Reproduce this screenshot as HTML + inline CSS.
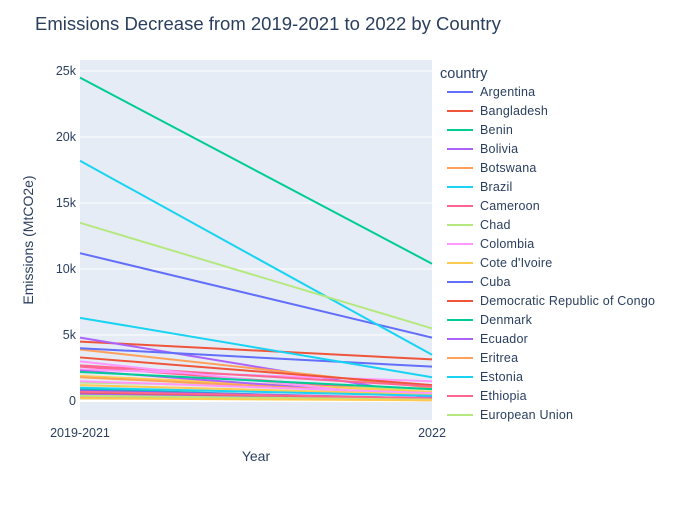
<!DOCTYPE html>
<html><head><meta charset="utf-8"><style>
body{margin:0;background:#fff;font-family:"Liberation Sans",Arial,sans-serif}
svg text{font-family:"Liberation Sans",Arial,sans-serif}
</style></head><body>
<svg id="chart" width="700" height="500" xmlns="http://www.w3.org/2000/svg">
<defs><clipPath id="lgclip"><rect x="434" y="55" width="266" height="368"/></clipPath></defs>
<rect width="700" height="500" fill="#fff"/>
<text x="35" y="30" font-size="18.5" fill="#2a3f5f">Emissions Decrease from 2019-2021 to 2022 by Country</text>
<rect x="80" y="60" width="352" height="360" fill="#e5ecf6"/>
<g id="grid"></g>
<g id="lines"></g>
<g id="axes"></g>
<text x="256" y="461" font-size="14" fill="#2a3f5f" text-anchor="middle">Year</text>
<text transform="translate(33,240) rotate(-90)" font-size="14" fill="#2a3f5f" text-anchor="middle">Emissions (MtCO2e)</text>
<g id="legend" clip-path="url(#lgclip)"></g>
</svg>
<script>
const categories = ["2019-2021","2022"];
const countries = ["Argentina","Bangladesh","Benin","Bolivia","Botswana","Brazil","Cameroon","Chad","Colombia","Cote d'Ivoire","Cuba","Democratic Republic of Congo","Denmark","Ecuador","Eritrea","Estonia","Ethiopia","European Union","C19","C20","C21","C22","C23","C24","C25","C26","C27","C28","C29","C30"];
const startValues = [11200,4500,900,4800,3900,18200,2600,1400,2400,1900,4000,3300,24500,2300,1800,6300,2700,13500,3000,1200,800,600,2200,500,300,1000,700,400,1500,200];
const endValues =   [4800,3150,100,400,1000,3500,600,900,1500,700,2600,1200,10400,300,500,1800,1100,5500,100,500,200,100,900,50,100,400,200,100,600,50];
const yTicks = [0,5000,10000,15000,20000,25000];
const yTickLabels = ["0","5k","10k","15k","20k","25k"];
const palette = ["#636efa","#EF553B","#00cc96","#ab63fa","#FFA15A","#19d3f3","#FF6692","#B6E880","#FF97FF","#FECB52"];
const NS="http://www.w3.org/2000/svg";
const x0=80,x1=432,yZero=401,pxPer=66/5000;
const xScale=i=>x0+i*(x1-x0)/(categories.length-1);
const yScale=v=>yZero-v*pxPer;
function mk(tag,attrs,parent){const e=document.createElementNS(NS,tag);for(const k in attrs)e.setAttribute(k,attrs[k]);parent.appendChild(e);return e;}
const grid=document.getElementById('grid'),axes=document.getElementById('axes');
yTicks.forEach((t,i)=>{
  const l=mk('line',{x1:x0,x2:x1,y1:yScale(t),y2:yScale(t),stroke:'#fff','stroke-width':t===0?2:1},grid);
  
  
  const tx=mk('text',{x:76,y:yScale(t)+4,'font-size':12.5,fill:'#2a3f5f','text-anchor':'end'},axes);
  tx.textContent=yTickLabels[i];
  
  
});
categories.forEach((c,i)=>{
  const tx=mk('text',{x:xScale(i),y:437,'font-size':12.5,fill:'#2a3f5f','text-anchor':'middle'},axes);
  tx.textContent=c;
  
  
});
const lines=document.getElementById('lines');
countries.forEach((c,i)=>{
  const p=mk('line',{x1:xScale(0),y1:yScale(startValues[i]),x2:xScale(1),y2:yScale(endValues[i]),stroke:palette[i%10],'stroke-width':2},lines);
  
  
});
const lg=document.getElementById('legend');
const lt=mk('text',{x:440,y:78,'font-size':14.5,fill:'#2a3f5f'},lg);
lt.textContent='country';


for(let i=0;i<18;i++){
  const y=92+i*19;
  const g=mk('g',{},lg);
  
  
  mk('line',{x1:447,x2:473,y1:y,y2:y,stroke:palette[i%10],'stroke-width':2},g);
  const t=mk('text',{x:480,y:y+4,'font-size':12.5,fill:'#2a3f5f','letter-spacing':'0.2'},g);
  t.textContent=countries[i];
}
</script>
</body></html>
